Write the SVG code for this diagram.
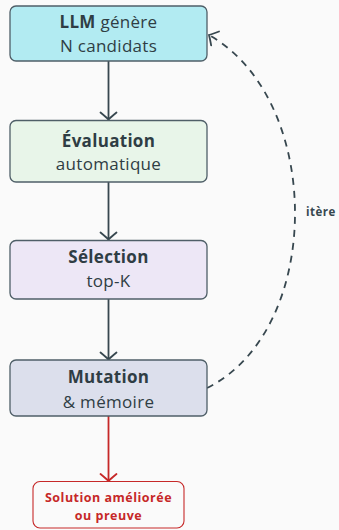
<svg xmlns="http://www.w3.org/2000/svg" width="339" height="530" viewBox="0 0 339 530">
<defs>
<style>
.box{stroke:#4f5f68;stroke-width:1.3}
.t{font-family:"Open Sans",Lato,"DejaVu Sans",sans-serif;font-size:17px;letter-spacing:0.3px;fill:#2f3d44;text-anchor:middle;font-variant-ligatures:none}
.b{font-weight:bold}
.edge{fill:none;stroke:#37474f;stroke-width:1.8}
.red{stroke:#c62828}
.rt{font-family:"Open Sans",Lato,"DejaVu Sans",sans-serif;font-size:12.5px;letter-spacing:0.5px;font-weight:bold;fill:#c62828;text-anchor:middle}
.lbl{font-family:"Open Sans",Lato,"DejaVu Sans",sans-serif;font-size:11.5px;letter-spacing:0.5px;font-weight:bold;fill:#37474f}
</style>
<marker id="ah" viewBox="-10 -10 12 20" refX="0" refY="0" markerWidth="12" markerHeight="20" markerUnits="userSpaceOnUse" orient="auto">
<path d="M-7,-8 Q-2,-2 0,0 Q-2,2 -7,8" fill="none" stroke="#37474f" stroke-width="1.8" stroke-linecap="round"/>
</marker>
<marker id="ahr" viewBox="-10 -10 12 20" refX="0" refY="0" markerWidth="12" markerHeight="20" markerUnits="userSpaceOnUse" orient="auto">
<path d="M-7,-8 Q-2,-2 0,0 Q-2,2 -7,8" fill="none" stroke="#c62828" stroke-width="1.8" stroke-linecap="round"/>
</marker>
</defs>
<rect width="339" height="530" fill="#fafafa"/>
<g id="connectors">
<line class="edge" x1="108.5" y1="61" x2="108.5" y2="119.5" marker-end="url(#ah)"/>
<line class="edge" x1="108.5" y1="182" x2="108.5" y2="239.5" marker-end="url(#ah)"/>
<line class="edge" x1="108.5" y1="299" x2="108.5" y2="359.5" marker-end="url(#ah)"/>
<line class="edge red" x1="108.5" y1="416" x2="108.5" y2="481" marker-end="url(#ahr)"/>
<path class="edge" d="M207,388 C324,330 324,100 209,35" stroke-dasharray="7,6" marker-end="url(#ah)"/>
<text class="lbl" x="306" y="216">itère</text>
</g>
<g id="n1">
<rect class="box" x="10" y="6" width="197" height="55" rx="6" fill="#b2ebf2"/>
<text class="t" x="108.5" y="28"><tspan class="b">LLM</tspan> génère</text>
<text class="t" x="108.5" y="51.5">N candidats</text>
</g>
<g id="n2">
<rect class="box" x="10" y="120.5" width="197" height="61.5" rx="6" fill="#e8f5e9"/>
<text class="t b" x="108.5" y="146.5">Évaluation</text>
<text class="t" x="108.5" y="170">automatique</text>
</g>
<g id="n3">
<rect class="box" x="10" y="240.5" width="197" height="58.5" rx="6" fill="#ede7f6"/>
<text class="t b" x="108.5" y="262.5">Sélection</text>
<text class="t" x="108.5" y="287">top-K</text>
</g>
<g id="n4">
<rect class="box" x="10" y="360" width="197" height="56" rx="6" fill="#dcdfec"/>
<text class="t b" x="108.5" y="382.5">Mutation</text>
<text class="t" x="108.5" y="407.5">&amp; mémoire</text>
</g>
<g id="n5">
<rect x="33" y="481.5" width="151" height="46.5" rx="7" fill="#fafafa" stroke="#c62828" stroke-width="1.1"/>
<text class="rt" x="108.5" y="501.5">Solution améliorée</text>
<text class="rt" x="108.5" y="519.5">ou preuve</text>
</g>
</svg>
